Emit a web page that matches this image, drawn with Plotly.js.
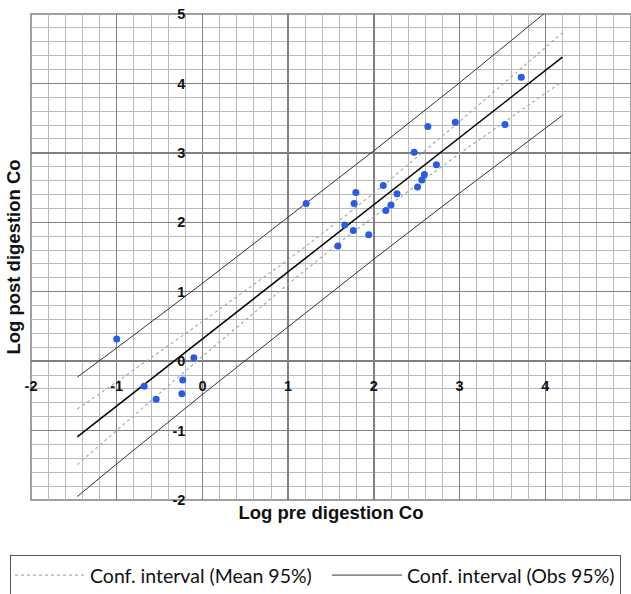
<!DOCTYPE html>
<html><head><meta charset="utf-8">
<script src="https://cdn.plot.ly/plotly-3.0.1.min.js"></script>
<style>html,body{margin:0;padding:0;background:#fff}#chart{width:631px;height:594px}</style>
</head><body><div id="chart"></div>
<script>
// Observed points (log pre digestion Co vs log post digestion Co)
const logPre  = [3.72, 2.63, 2.95, 3.53, 2.47, 2.73, 2.59, 2.56, 2.51, 2.11, 1.79, 2.27, 1.77, 2.20, 2.14, 1.66, 1.76, 1.94, 1.58, 1.21, -1.00, -0.10, -0.68, -0.23, -0.54, -0.24];
const logPost = [4.09, 3.38, 3.44, 3.41, 3.01, 2.83, 2.69, 2.61, 2.51, 2.53, 2.43, 2.41, 2.27, 2.25, 2.17, 1.96, 1.88, 1.82, 1.66, 2.27, 0.32, 0.05, -0.36, -0.27, -0.55, -0.47];

// Regression line
const fitX = [-1.46, 4.2];
const fitY = [-1.09, 4.38];

// Confidence interval of the mean (95%)
const meanX     = [-1.46, -1, 0, 1, 1.6, 2, 3, 4.2];
const meanUpper = [-0.69, -0.30, 0.57, 1.46, 2.03, 2.42, 3.45, 4.73];
const meanLower = [-1.49, -1.00, 0.07, 1.11, 1.71, 2.08, 2.99, 4.03];

// Confidence interval of observations (95%)
const obsX     = [-1.46, -1, 0, 1, 2, 3, 4, 4.2];
const obsUpper = [-0.23, 0.19, 1.12, 2.07, 3.03, 4.01, 5.01, 5.22];
const obsLower = [-1.95, -1.48, -0.48, 0.50, 1.47, 2.42, 3.35, 3.54];

const tickVals = [-2, -1, 0, 1, 2, 3, 4, 5];
const tickText = ['-2', '-1', '0', '1', '2', '3', '4', '5'];

const MAJOR = '#808080', MINOR = '#bababa';
const zeroPos = 2 / 7;
const SANS = 'Liberation Sans';

const traces = [
  {x: meanX, y: meanUpper, mode: 'lines', name: 'Conf. interval (Mean 95%)', legendgroup: 'mean', legendwidth: 232,
   line: {color: '#ababab', width: 1.2, dash: 'dot'}, hoverinfo: 'skip'},
  {x: meanX, y: meanLower, mode: 'lines', name: 'Conf. interval (Mean 95%)', legendgroup: 'mean', showlegend: false,
   line: {color: '#ababab', width: 1.2, dash: 'dot'}, hoverinfo: 'skip'},
  {x: obsX, y: obsUpper, mode: 'lines', name: 'Conf. interval (Obs 95%)', legendgroup: 'obs',
   line: {color: '#333333', width: 1}, hoverinfo: 'skip'},
  {x: obsX, y: obsLower, mode: 'lines', name: 'Conf. interval (Obs 95%)', legendgroup: 'obs', showlegend: false,
   line: {color: '#333333', width: 1}, hoverinfo: 'skip'},
  {x: fitX, y: fitY, mode: 'lines', name: 'Model', showlegend: false,
   line: {color: '#000000', width: 1.5}},
  {x: logPre, y: logPost, mode: 'markers', name: 'Data', showlegend: false, xaxis: 'x2', yaxis: 'y2',
   marker: {color: '#2a5be8', size: 7}}
];

const gridAxis = {
  range: [-2, 5], tick0: 0, dtick: 1, showgrid: true, gridcolor: MAJOR, gridwidth: 1.5,
  minor: {dtick: 0.2, showgrid: true, gridcolor: MINOR, gridwidth: 1},
  zeroline: true, zerolinecolor: MAJOR, zerolinewidth: 1.5,
  showticklabels: false, ticks: '', showline: false, automargin: false, fixedrange: true
};
const titleFont = {family: SANS, size: 18.5, color: '#111', weight: 700};
const tickFont = {family: SANS, size: 14.5, color: '#111', weight: 700};

const layout = {
  width: 631, height: 594,
  margin: {l: 31, r: 0, t: 14, b: 94, autoexpand: false},
  paper_bgcolor: '#ffffff', plot_bgcolor: '#ffffff',
  showlegend: true,
  xaxis: Object.assign({}, gridAxis, {
    title: {text: '<b>Log pre digestion Co</b>', font: titleFont, standoff: 6}
  }),
  yaxis: Object.assign({}, gridAxis, {
    title: {text: '<b>Log post digestion Co</b>', font: titleFont, standoff: 4}
  }),
  xaxis2: {
    overlaying: 'x', anchor: 'free', position: zeroPos, side: 'bottom', range: [-2, 5],
    tickmode: 'array', tickvals: tickVals, ticktext: tickText.map(t => '<b>' + t + '</b>'),
    showgrid: false, zeroline: false, showline: false, ticks: '',
    ticklabelstandoff: 14, automargin: false, fixedrange: true, tickfont: tickFont
  },
  yaxis2: {
    overlaying: 'y', anchor: 'free', position: zeroPos, side: 'left', range: [-2, 5],
    tickmode: 'array', tickvals: tickVals, ticktext: tickText.map(t => '<b>' + t + '</b>'),
    showgrid: false, zeroline: false, showline: false, ticks: '',
    ticklabelstandoff: 17, automargin: false, fixedrange: true, tickfont: tickFont
  },
  legend: {
    orientation: 'h', x: -0.035, xanchor: 'left', y: -0.113, yanchor: 'top',
    bordercolor: '#555', borderwidth: 1, bgcolor: '#fff',
    font: {family: 'Lato', size: 19.5, color: '#111'},
    itemwidth: 70
  },
  shapes: [
    {type: 'rect', xref: 'paper', yref: 'paper', x0: 0, x1: 1, y0: 0, y1: 1, line: {color: MAJOR, width: 1.5}, layer: 'below'}
  ]
};

Plotly.newPlot('chart', traces, layout, {displayModeBar: false, staticPlot: true});
</script>
</body></html>
